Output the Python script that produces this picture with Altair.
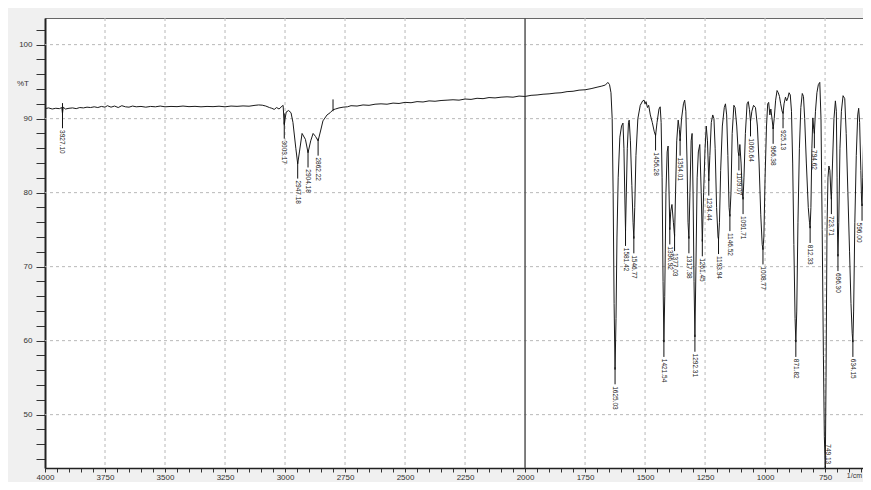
import altair as alt
import pandas as pd
import numpy as np

# ---- spectrum (wavenumber in 1/cm, transmittance in %T) ----
wn = [
    4000, 3985, 3970, 3955, 3940, 3930, 3927.10, 3924, 3915, 3900, 3885, 3870, 3855, 3840, 3825,
    3810, 3795, 3780, 3765, 3750, 3740, 3725, 3710, 3695, 3680, 3665, 3650, 3635, 3620, 3600,
    3580, 3560, 3540, 3520, 3500, 3475, 3450, 3425, 3400, 3375, 3350, 3325, 3300, 3275, 3250,
    3225, 3200, 3175, 3150, 3125, 3110, 3095, 3080, 3065, 3055, 3045, 3035, 3025, 3012, 3008,
    3003.17, 2995, 2985, 2975, 2967, 2955, 2947.18, 2940, 2929, 2915, 2904.18, 2893, 2883, 2873,
    2862.22, 2850, 2842, 2825, 2812, 2800, 2790, 2775, 2758, 2740, 2725, 2700, 2675, 2650, 2625,
    2600, 2575, 2550, 2525, 2500, 2475, 2450, 2425, 2400, 2375, 2350, 2325, 2300, 2275, 2250,
    2225, 2200, 2175, 2150, 2125, 2100, 2075, 2050, 2025, 2000, 1975, 1950, 1925, 1900, 1875,
    1850, 1825, 1800, 1775, 1750, 1725, 1700, 1680, 1665, 1655, 1648, 1642, 1637, 1633, 1629,
    1625.03, 1621, 1617, 1612, 1605, 1598, 1592, 1588, 1584, 1581.42, 1578, 1574, 1569, 1566,
    1561, 1555, 1550, 1546.77, 1543, 1538, 1530, 1520, 1510, 1504, 1500, 1496, 1490, 1485, 1478,
    1470, 1462, 1456.28, 1450, 1442, 1437, 1433, 1429, 1425, 1421.54, 1418, 1413, 1408, 1404,
    1400, 1396.92, 1393, 1388, 1382, 1377.03, 1373, 1368, 1362, 1357, 1354.01, 1348, 1340, 1335,
    1330, 1325, 1321, 1317.38, 1313, 1308, 1304, 1300, 1296, 1292.31, 1288, 1283, 1278, 1272,
    1266, 1261.45, 1256, 1250, 1245, 1240, 1234.44, 1230, 1224, 1218, 1213, 1208, 1202, 1196,
    1193.94, 1190, 1185, 1178, 1170, 1165, 1160, 1155, 1150, 1146.52, 1142, 1137, 1130, 1125,
    1118, 1112, 1109.07, 1105, 1100, 1095, 1091.71, 1088, 1082, 1075, 1070, 1065, 1060.64, 1055,
    1048, 1040, 1032, 1025, 1018, 1012, 1008.77, 1005, 1000, 994, 989, 985, 980, 976, 971,
    966.38, 962, 956, 950, 945, 940, 935, 929, 925.13, 921, 915, 910, 905, 900, 895, 890, 885,
    880, 875, 871.82, 868, 863, 857, 851, 845, 840, 835, 828, 820, 815, 812.33, 809, 805, 801,
    797, 794.62, 790, 784, 778, 772, 767, 762, 757, 753, 749.13, 746, 742, 738, 734, 730, 726,
    723.71, 719, 713, 707, 703, 700, 698, 696.30, 693, 688, 682, 675, 668, 662, 655, 648, 642,
    637, 634.15, 631, 626, 620, 614, 610, 606, 601, 598, 596.00, 593, 589, 584, 578, 572, 566,
    560, 555,
]
tr = [
    91.35, 91.45, 91.30, 91.40, 91.35, 91.50, 90.70, 91.55, 91.30, 91.40, 91.45, 91.35, 91.50, 91.45, 91.55,
    91.50, 91.60, 91.50, 91.65, 91.55, 91.75, 91.55, 91.70, 91.50, 91.75, 91.60, 91.55, 91.70, 91.60, 91.65,
    91.55, 91.65, 91.60, 91.70, 91.60, 91.65, 91.62, 91.70, 91.62, 91.66, 91.60, 91.65, 91.62, 91.68, 91.60,
    91.70, 91.66, 91.72, 91.68, 91.80, 91.85, 91.82, 91.70, 91.50, 91.40, 91.25, 91.50, 91.30, 91.70, 91.80,
    89.30, 90.90, 91.10, 90.80, 89.50, 86.00, 83.90, 85.50, 88.00, 87.20, 85.40, 87.00, 88.00, 87.60,
    87.00, 88.60, 89.70, 90.50, 90.80, 91.20, 91.30, 91.45, 91.55, 91.60, 91.75, 91.70, 91.85, 91.80, 91.95,
    92.00, 91.95, 92.10, 92.05, 92.20, 92.15, 92.30, 92.25, 92.40, 92.35, 92.45, 92.50, 92.55, 92.50, 92.65,
    92.60, 92.75, 92.70, 92.85, 92.80, 92.90, 92.95, 92.90, 93.05, 93.00, 93.15, 93.20, 93.30, 93.35, 93.45,
    93.50, 93.65, 93.70, 93.85, 93.90, 94.05, 94.25, 94.40, 94.55, 94.90, 94.60, 93.50, 90.00, 80.00, 65.00,
    56.10, 63.00, 74.00, 82.00, 87.50, 89.00, 89.40, 86.00, 79.00, 74.80, 80.00, 86.00, 89.50, 89.80,
    87.00, 81.00, 76.00, 73.80, 78.00, 85.00, 90.00, 91.80, 92.40, 92.50, 92.00, 92.30, 91.50, 91.80, 90.50,
    89.50, 88.30, 87.70, 89.50, 91.30, 91.60, 89.50, 82.00, 68.00, 59.80, 66.00, 80.00, 85.50, 86.30,
    80.00, 75.00, 77.50, 78.40, 76.00, 74.10, 80.00, 87.00, 89.80, 88.50, 87.00, 90.00, 92.00, 92.50,
    91.00, 84.00, 76.00, 73.80, 80.00, 87.00, 88.00, 80.00, 68.00, 60.50, 70.00, 82.00, 85.50, 86.50,
    80.00, 73.40, 80.00, 86.00, 89.00, 87.00, 81.60, 85.00, 89.50, 90.50, 90.00, 86.00, 78.00, 74.00,
    73.70, 76.00, 83.00, 89.00, 91.50, 92.00, 90.50, 85.00, 78.00, 76.80, 80.00, 88.00, 91.80, 91.50,
    89.00, 85.50, 85.00, 86.50, 84.00, 80.00, 79.10, 82.00, 88.00, 92.00, 92.30, 91.20, 89.60, 91.00,
    91.80, 91.50, 89.00, 84.00, 77.00, 73.00, 72.30, 74.00, 82.00, 89.00, 92.00, 92.20, 90.50, 91.30, 90.00,
    88.60, 90.00, 92.50, 93.80, 93.50, 93.00, 92.00, 91.00, 90.70, 92.00, 92.90, 92.40, 92.80, 93.50, 93.20, 91.00, 84.00,
    73.00, 63.00, 59.80, 64.00, 76.00, 86.00, 91.50, 93.40, 93.00, 90.00, 84.00, 78.00, 76.00, 75.20, 78.00, 86.00, 90.10,
    88.50, 88.00, 91.00, 93.50, 94.60, 94.90, 90.00, 75.00, 58.00, 47.00, 42.80, 55.00, 75.00, 82.00, 83.60, 83.00, 80.00,
    79.10, 84.00, 90.00, 92.40, 91.00, 82.00, 74.00, 71.40, 76.00, 86.00, 91.00, 93.10, 92.70, 88.00, 80.00, 72.00, 65.00,
    61.00, 59.80, 64.00, 76.00, 85.00, 90.50, 91.40, 89.50, 83.00, 79.00, 78.20, 82.00, 88.00, 91.40, 93.50, 95.50, 96.50,
    97.30, 98.00,
]

# ---- peak labels ----
peak_labels = [
    "3927.10", "3003.17", "2947.18", "2904.18", "2862.22",
    "1625.03", "1581.42", "1546.77", "1456.28", "1421.54", "1396.92", "1377.03", "1354.01",
    "1317.38", "1292.31", "1261.45", "1234.44", "1193.94", "1146.52", "1109.07", "1091.71",
    "1060.64", "1008.77", "966.38", "925.13", "871.82", "812.33", "794.62", "749.13",
    "723.71", "696.30", "634.15", "596.00",
]
marker_wn = [3927.10, 3003.17, 2800]

# ---- axes ----
x_ticks = list(range(4000, 591, -50))
y_ticks = list(range(44, 104, 2))
v_grid = [3750, 3500, 3250, 3000, 2750, 2500, 2250, 1750, 1500, 1250, 1000, 750]
h_grid = [50, 60, 70, 80, 90, 100]
split_wn = [2000]

X_DOMAIN = [4000, 592]
Y_DOMAIN = [42.79, 103.6]
W, H = 818, 450

spec = pd.DataFrame({"wn": wn, "T": tr})
pk_wn = [float(s) for s in peak_labels]
pk_T = np.interp(pk_wn[::-1], wn[::-1], tr[::-1])[::-1]
peaks = pd.DataFrame({
    "wn": pk_wn,
    "label": peak_labels,
    "T": pk_T + 0.3,
    "bot": pk_T - 2.0,
    "ty": pk_T - 2.25,
})
# labels that would fall outside the plot are nudged inside
at_bottom = peaks["ty"] < Y_DOMAIN[0] + 3.2
peaks.loc[at_bottom, "ty"] = Y_DOMAIN[0] + 3.2
at_right = peaks["wn"] < X_DOMAIN[1] + 10
lab_mid = peaks[~at_bottom & ~at_right]
lab_right = peaks[at_bottom]
lab_left = peaks[at_right]

mk_T = np.interp(marker_wn[::-1], wn[::-1], tr[::-1])[::-1]
markers = pd.DataFrame({"wn": marker_wn, "T": mk_T + 1.4, "bot": mk_T - 0.2})

xs = alt.Scale(domain=X_DOMAIN, nice=False, zero=False)
ys = alt.Scale(domain=Y_DOMAIN, nice=False, zero=False)

x_axis = alt.Axis(
    values=x_ticks, format="d",
    labelExpr="datum.value % 250 === 0 ? datum.label : ''",
    grid=False, tickSize=4, tickColor="#333", domainColor="#222", domainWidth=1.5,
    labelFontSize=8, labelColor="#333", labelPadding=1, labelFont="Liberation Sans",
    title=None, labelOverlap=False, labelFlush=False,
)
y_axis = alt.Axis(
    values=y_ticks,
    labelExpr="datum.value % 10 === 0 ? datum.label : ''",
    grid=False, tickSize=9, tickColor="#333", domainColor="#222", domainWidth=2,
    labelFontSize=8, labelColor="#333", labelPadding=4, labelFont="Liberation Sans",
    title=None, labelOverlap=False,
)

X = alt.X("wn:Q", scale=xs, axis=x_axis)
Y = alt.Y("T:Q", scale=ys, axis=y_axis)
TY = alt.Y("ty:Q", scale=ys, axis=y_axis)

vgrid = alt.Chart(pd.DataFrame({"wn": v_grid})).mark_rule(
    color="#b8b8b8", strokeDash=[3, 3], strokeWidth=1
).encode(x=X)
hgrid = alt.Chart(pd.DataFrame({"T": h_grid})).mark_rule(
    color="#b8b8b8", strokeDash=[3, 3], strokeWidth=1
).encode(y=Y)
split = alt.Chart(pd.DataFrame({"wn": split_wn})).mark_rule(
    color="#555", strokeWidth=1.5
).encode(x=X)

line = alt.Chart(spec).mark_line(color="#1a1a1a", strokeWidth=1, clip=True).encode(
    x=X, y=Y, order="wn:Q"
)

leaders = alt.Chart(peaks).mark_rule(color="#111", strokeWidth=1, clip=True).encode(
    x=X, y=Y, y2="bot:Q"
)
mk = alt.Chart(markers).mark_rule(color="#111", strokeWidth=1, clip=True).encode(
    x=X, y=Y, y2="bot:Q"
)

def label_layer(df, baseline):
    return alt.Chart(df).mark_text(
        angle=90, align="left", baseline=baseline, fontSize=6.5, color="#222",
        font="Liberation Sans", clip=True
    ).encode(x=X, y=TY, text="label:N")

labels_mid = label_layer(lab_mid, "middle")
labels_right = label_layer(lab_right, "bottom")
labels_left = label_layer(lab_left, "top")

pct = alt.Chart(pd.DataFrame({"t": ["%T"]})).mark_text(
    align="center", baseline="middle", fontSize=8, color="#333", font="Liberation Sans"
).encode(x=alt.value(-22), y=alt.value(66), text="t:N")
unit = alt.Chart(pd.DataFrame({"t": ["1/cm"]})).mark_text(
    align="right", baseline="top", fontSize=7, color="#333", font="Liberation Sans"
).encode(x=alt.value(W - 1), y=alt.value(H + 4), text="t:N")

chart = alt.layer(
    vgrid, hgrid, split, line, mk, leaders, labels_mid, labels_right, labels_left, pct, unit
).properties(
    width=W, height=H,
    autosize=alt.AutoSizeParams(type="none"),
    padding={"left": 37, "top": 10, "right": 0, "bottom": 14},
    background="#f0f0f0",
).configure_view(
    fill="white", stroke="#666", strokeWidth=1
)

chart.save("out.html", embed_options={"renderer": "svg", "actions": False})
